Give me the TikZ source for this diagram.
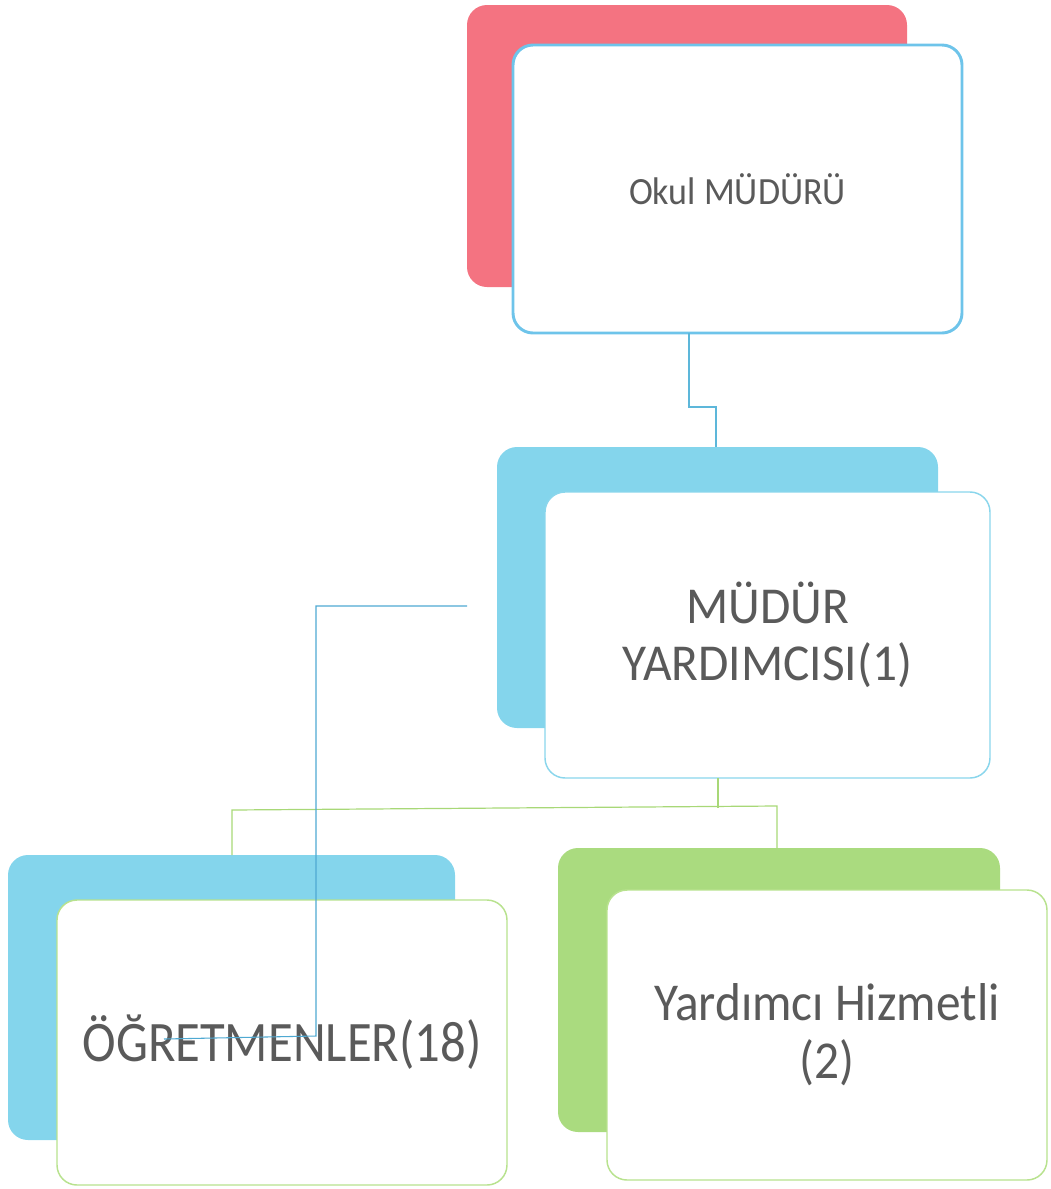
\documentclass[tikz,border=0pt]{standalone}
\usepackage{fontspec}
\setmainfont{Carlito}
\definecolor{redback}{HTML}{F47381}
\definecolor{cyanback}{HTML}{84D5EC}
\definecolor{greenback}{HTML}{AADB7F}
\definecolor{blueedge}{HTML}{6EC4EA}
\definecolor{cyanedge}{HTML}{8AD6EC}
\definecolor{greenedge}{HTML}{B8E28E}
\definecolor{bluecon}{HTML}{5DB7DA}
\definecolor{greencon}{HTML}{A8D877}
\definecolor{straycon}{HTML}{4FA9D2}
\definecolor{txt}{HTML}{5A5A5A}
\begin{document}
\begin{tikzpicture}[x=0.75pt,y=-0.75pt,
  box/.style={rectangle,rounded corners=15pt,inner sep=0pt,outer sep=0pt,align=center,text=txt},
  back/.style={box,draw=none},
  front/.style={box,fill=white},
  conn/.style={line width=0.9pt}]
\useasboundingbox (0,0) rectangle (1050,1189);
% top
\node[back,fill=redback,minimum width=330pt,minimum height=211.5pt] (topback) at (687,146) {};
\node[front,draw=blueedge,line width=2.2pt,minimum width=336.75pt,minimum height=216pt,font=\fontsize{27}{32}\selectfont] (topfront) at (737.5,189) {\scalebox{1}[1.07]{Okul MÜDÜRÜ}};
% top connector
\coordinate (k1) at (689,407);
\coordinate (k2) at (716,407);
% middle
\node[back,fill=cyanback,minimum width=330.75pt,minimum height=210.75pt] (midback) at (717.5,587.5) {};
\draw[conn,bluecon] (topfront.south -| k1) -- (k1) -- (k2) -- (k2 |- midback.north);
\node[front,draw=cyanedge,line width=1.1pt,minimum width=333.75pt,minimum height=214.5pt,font=\fontsize{37}{43}\selectfont] (midfront) at (767.5,635) {\scalebox{1}[1.05]{MÜDÜR}\\\scalebox{1}[1.05]{YARDIMCISI(1)}};
% green connector
\coordinate (g0) at (718,808);
\coordinate (gl) at (232,810);
\coordinate (gr) at (777,806);
% bottom left
\node[back,fill=cyanback,minimum width=335.25pt,minimum height=213.75pt] (leftback) at (231.5,997.5) {};
% bottom right
\node[back,fill=greenback,minimum width=331.5pt,minimum height=213pt] (rightback) at (779,990) {};
\draw[conn,greencon] (midfront.south -| g0) -- (g0);
\draw[conn,greencon] (leftback.north -| gl) -- (gl) -- (gr) -- (rightback.north -| gr);
\node[front,draw=greenedge,line width=1.1pt,minimum width=337.5pt,minimum height=213.75pt,font=\fontsize{38}{44}\selectfont] (leftfront) at (282,1042.5) {\scalebox{1}[1.13]{ÖĞRETMENLER(18)}};
\node[front,draw=greenedge,line width=1.1pt,minimum width=330pt,minimum height=217.5pt,font=\fontsize{37}{43.5}\selectfont] (rightfront) at (827,1035) {\scalebox{1}[1.08]{Yardımcı Hizmetli}\\\scalebox{1}[1.08]{(2)}};
% stray line
\coordinate (s0) at (467,606);
\coordinate (s1) at (316,606);
\coordinate (s2) at (316,1036);
\coordinate (s3) at (164,1039);
\draw[line width=0.8pt,straycon] (s0) -- (s1) -- (s2) -- (s3);
\end{tikzpicture}
\end{document}
